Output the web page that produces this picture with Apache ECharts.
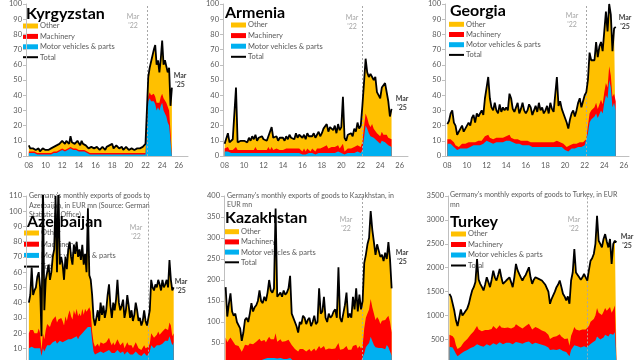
<!DOCTYPE html>
<html><head><meta charset="utf-8">
<script src="https://cdn.jsdelivr.net/npm/echarts@6/dist/echarts.min.js"></script>
<style>html,body{margin:0;padding:0;overflow:hidden;background:#fff;width:640px;height:360px}#c{width:640px;height:380px}</style>
</head><body><div id="c"></div><script>
// bimonthly points, Jan 2008 .. Mar 2025 (fractional years)
const periods = Array.from({length:104},(_,i)=>2008 + i/6);
const xTickLabels = [2008,2010,2012,2014,2016,2018,2020,2022,2024,2026];
const seriesNames = ['Other','Machinery','Motor vehicles & parts','Total'];

// Kyrgyzstan (EUR mn)
const kgTotal = [7,5,6,5,6,4, 4,5,3,4,5,4, 4,5,4,5,5,6, 6,5,7,7,8,9, 10,9,8,10,9,8, 13,9,10,8,9,10, 9,7,10,8,9,7, 6,5,4,6,5,5, 4,6,5,4,5,6, 5,4,6,5,7,6, 8,5,6,7,6,5, 5,6,4,5,6,5, 4,3,5,4,4,5, 5,4,5,5,6,7, 8,9,52,58,62,66, 70,73,60,63,55,64, 76,60,63,62,55,58, 33,45];
const kgMotor = [2,2,2,2,2,1, 1,1,1,1,1,1, 1,1,1,1,1,1, 2,2,2,2,3,3, 4,4,3,4,4,3, 5,4,4,3,4,4, 3,3,3,3,3,2, 2,1,1,1,1,1, 1,1,1,1,1,1, 1,1,1,1,1,1, 1,1,1,1,1,1, 1,1,1,1,1,1, 1,1,1,1,1,1, 1,1,1,1,1,1, 1,1,36,38,36,35, 36,34,30,32,30,33, 35,30,28,26,22,20, 10,10];
const kgMach = [1,1,1,1,1,1, 1,1,1,1,1,1, 1,1,1,1,1,1, 1,1,1,1,1,1, 1,1,1,1,1,1, 1,1,1,1,1,1, 1,1,1,1,1,1, 1,1,1,1,1,1, 1,1,1,1,1,1, 1,1,1,1,1,1, 1,1,1,1,1,1, 1,1,1,1,1,1, 1,1,1,1,1,1, 1,1,1,1,1,1, 1,1,3,4,4,4, 5,5,5,4,5,6, 6,8,10,9,12,10, 6,5];

// Armenia
const amTotal = [8,9,15,9,10,11, 10,45,9,8,10,9, 10,11,9,12,10,13, 11,14,10,12,11,13, 11,12,10,13,12,19, 12,11,13,10,12,11, 12,10,13,11,14,12, 13,11,15,12,14,13, 12,14,11,15,13,12, 13,15,12,14,16,13, 15,18,17,21,16,19, 18,17,20,15,21,17, 19,39,12,10,14,13, 15,13,18,16,22,18, 20,33,48,64,55,52, 54,55,50,52,42,40, 38,45,44,48,47,36, 26,31];
const amMotor = [3,3,3,2,2,2, 2,3,2,2,2,2, 2,2,2,3,2,2, 2,3,2,2,2,3, 2,2,2,3,2,3, 2,2,2,2,2,2, 2,2,2,2,2,2, 2,2,2,2,2,2, 1,2,1,2,2,1, 2,2,1,2,2,2, 2,2,2,3,2,2, 2,2,2,2,3,2, 2,3,1,1,2,2, 2,2,2,2,3,2, 2,4,12,20,18,15, 13,14,12,11,10,9, 8,10,9,9,8,7, 6,6];
const amMach = [2,2,3,2,2,2, 2,3,2,2,2,2, 2,2,2,2,2,3, 2,3,2,2,2,2, 2,2,2,3,2,3, 2,2,3,2,2,2, 2,2,3,2,3,2, 3,2,3,2,3,3, 2,3,2,3,3,2, 3,3,2,3,3,3, 3,4,3,4,3,4, 4,3,4,3,4,3, 4,5,2,2,3,3, 3,3,4,3,4,4, 4,5,7,8,7,6, 6,7,6,6,5,5, 5,6,5,6,6,5, 5,5];

// Georgia
const geTotal = [21,23,28,30,22,20, 14,15,18,20,16,18, 19,22,20,25,27,22, 28,26,25,30,27,38, 45,52,38,32,30,35, 30,28,34,29,32,30, 32,30,41,38,31,29, 32,35,28,31,35,30, 28,30,34,32,27,30, 33,29,35,30,32,28, 30,33,28,35,31,29, 30,52,33,36,31,28, 25,22,18,24,28,30, 26,30,35,38,32,36, 40,42,50,68,63,62, 63,75,65,72,75,69, 70,95,82,100,93,69, 84,85];
const geMotor = [8,8,8,7,6,5, 4,4,5,5,5,5, 5,6,6,6,7,6, 7,7,7,7,8,9, 10,10,9,8,8,9, 9,8,9,9,9,9, 10,10,10,9,9,8, 8,8,8,7,7,7, 7,7,7,6,6,6, 6,6,6,6,6,6, 6,6,6,6,6,6, 6,6,6,6,6,5, 4,4,3,4,5,5, 5,5,6,6,6,6, 7,8,15,22,24,25, 26,28,25,24,30,28, 35,40,38,50,45,32, 35,30];
const geMach = [3,3,3,3,3,2, 2,2,2,3,2,3, 3,3,3,3,3,3, 3,3,3,3,3,4, 4,4,3,3,3,3, 3,3,3,3,3,3, 3,3,4,3,3,3, 3,3,3,3,3,3, 3,3,3,3,3,3, 3,3,3,3,3,3, 3,3,3,3,3,3, 3,4,3,3,3,3, 3,2,2,3,3,3, 3,3,3,3,3,3, 3,3,5,6,6,6, 6,7,6,6,7,6, 7,8,7,9,8,7, 6,6];

// Azerbaijan
const azTotal = [40,45,63,45,48,50, 57,60,50,18,120,35, 55,60,65,55,60,70, 75,110,60,120,65,70, 65,55,70,62,75,80, 70,65,78,72,80,70, 75,68,78,65,72,60, 102,58,55,45,30,25, 30,35,28,40,32,38, 30,35,45,52,38,30, 40,35,42,55,40,35, 38,42,30,35,45,38, 30,35,28,32,40,35, 28,30,25,28,35,28, 25,30,35,55,50,48, 52,50,55,52,48,55, 50,52,55,50,68,55, 48,50];
const azMotor = [10,10,11,10,10,10, 10,11,10,5,10,8, 10,12,12,12,13,14, 14,15,13,14,15,15, 14,13,15,14,16,17, 16,15,17,16,18,16, 18,17,20,20,22,22, 24,25,24,15,8,6, 6,7,6,8,7,7, 7,8,8,9,8,7, 8,7,8,9,8,7, 7,8,6,7,8,7, 6,7,6,7,8,7, 6,6,5,6,7,6, 5,6,8,12,11,10, 11,12,13,12,11,13, 14,15,16,15,18,17, 12,14];
const azMach = [10,12,12,12,10,10, 10,12,10,4,10,8, 12,14,14,12,14,15, 15,16,14,15,15,15, 14,12,16,14,16,18, 15,14,18,16,18,15, 15,14,16,12,14,12, 10,12,10,6,6,5, 5,6,5,6,6,6, 6,6,7,8,6,5, 6,5,6,7,6,5, 5,6,4,5,6,5, 5,5,4,5,6,5, 4,5,4,4,5,4, 4,5,5,8,8,7, 7,7,8,7,7,8, 7,8,8,7,9,8, 6,6];

// Kazakhstan
const kzTotal = [183,113,144,168,125,115, 120,100,97,85,55,75, 105,110,100,120,145,125, 135,140,150,175,150,145, 160,150,170,200,175,170, 180,370,160,165,170,160, 175,165,170,180,210,120, 120,100,90,75,100,95, 115,110,95,105,110,90, 100,115,95,100,180,120, 125,160,110,100,120,110, 115,125,130,110,230,110, 100,120,140,170,110,120, 110,160,130,180,125,165, 130,150,240,260,285,300, 364,320,290,260,285,270, 255,260,245,265,250,290, 250,180];
const kzMotor = [8,7,8,8,7,6, 5,5,5,5,4,5, 6,6,6,7,8,7, 8,8,9,10,9,9, 12,12,14,15,14,13, 14,18,13,14,14,13, 12,12,12,13,14,10, 8,6,5,5,6,5, 6,6,5,6,6,5, 6,7,6,6,8,7, 7,8,6,6,7,6, 6,7,7,6,10,6, 5,6,6,8,6,7, 6,8,7,8,7,8, 7,8,25,40,45,50, 65,55,45,40,42,38, 35,38,40,35,45,40, 30,20];
const kzMach = [55,45,50,55,50,45, 40,40,38,35,25,32, 40,40,38,42,45,40, 42,45,45,50,45,45, 45,40,45,50,45,45, 45,55,40,42,45,40, 45,42,45,45,48,35, 35,30,28,25,30,28, 30,28,25,28,30,25, 28,30,25,28,35,30, 32,35,28,25,30,28, 30,32,30,28,40,28, 25,30,32,35,28,30, 28,35,32,38,30,35, 30,35,60,70,75,80, 90,80,75,65,70,68, 60,65,62,70,65,75, 70,55];

// Turkey
const trTotal = [1455,1390,1350,1100,900,780, 760,1130,1000,1050,1040,1150, 1250,1400,1525,1594,1700,2180, 1750,1663,1600,1525,1650,1800, 1700,1594,1750,1940,1800,1733, 1850,1975,1800,1663,1700,1733, 1760,1800,1700,1594,1800,2080, 1950,1871,1800,1733,1800,1850, 1871,2010,1800,1663,1750,1800, 1800,1767,1750,1733,1700,1650, 1663,1500,1247,1350,1386,1500, 1594,1650,1733,1600,1455,1400, 1317,1400,1247,1733,1900,2390, 1900,1871,1800,1750,1800,1871, 1800,1733,1950,2148,2200,2287, 2500,3084,2564,2500,2425,2600, 2703,2550,2425,2600,2079,2500, 2564,2530];
const trMotor = [350,340,330,300,200,150, 150,200,220,250,260,280, 300,320,340,350,370,400, 380,370,360,350,380,400, 380,370,390,420,400,390, 420,440,420,400,420,430, 420,430,410,400,430,450, 440,430,420,410,430,440, 450,460,430,400,420,430, 420,410,400,390,380,370, 360,330,280,300,290,300, 280,290,300,270,260,250, 240,260,150,280,330,380, 350,360,340,330,350,360, 350,330,380,420,430,450, 480,560,520,500,510,540, 600,580,560,620,580,600, 650,640];
const trMach = [250,250,240,220,180,150, 130,150,180,200,210,230, 250,280,300,320,330,380, 330,320,310,300,320,340, 320,310,330,360,340,330, 340,360,330,310,320,330, 330,340,320,310,330,370, 350,340,330,320,330,340, 340,370,340,310,320,330, 330,320,310,300,300,290, 290,270,230,250,260,280, 290,300,310,290,270,260, 250,260,220,300,330,380, 360,370,350,340,360,370, 360,350,400,450,470,480, 520,600,540,520,500,540, 560,520,500,560,480,520, 560,540];

const COLORS = {other:'#FFC000', mach:'#FF0000', motor:'#00B0F0', total:'#000000'};
const FONT = 'Lato, "Open Sans", sans-serif';

const panels = [
 {name:'Kyrgyzstan', total:kgTotal, motor:kgMotor, mach:kgMach, yMax:100, yStep:10,
  left:26, top:3, width:162, height:153, xMin:2007.66, xMax:2027.1,
  title:[26,14], legend:[23,26,10.4], mar22:[133,12.5], mar25:[180,71], sub:null},
 {name:'Armenia', total:amTotal, motor:amMotor, mach:amMach, yMax:100, yStep:10,
  left:223, top:3, width:185, height:153, xMin:2007.83, xMax:2026.86,
  title:[225,13], legend:[231,25,10.6], mar22:[352,13], mar25:[402,94], sub:null},
 {name:'Georgia', total:geTotal, motor:geMotor, mach:geMach, yMax:100, yStep:10,
  left:445, top:3, width:184, height:153, xMin:2007.76, xMax:2026.52,
  title:[450,11], legend:[449,24.3,10.2], mar22:[572,11.5], mar25:[625,13], sub:null},
 {name:'Azerbaijan', total:azTotal, motor:azMotor, mach:azMach, yMax:110, yStep:10,
  left:26, top:196, width:164, height:167.6, xMin:2007.66, xMax:2027.1,
  title:[27,222], legend:[24,233,11.2], mar22:[136,223], mar25:[181,277],
  sub:[29,196,["Germany's monthly exports of goods to","Azerbaijan, in EUR mn (Source: German","Statistical Office)"]]},
 {name:'Kazakhstan', total:kzTotal, motor:kzMotor, mach:kzMach, yMax:400, yStep:50,
  left:224, top:196, width:184, height:168, xMin:2007.83, xMax:2026.86,
  title:[225,218], legend:[224,231.7,10.2], mar22:[346,215], mar25:[402,248],
  sub:[227,195.7,["Germany's monthly exports of goods to Kazakhstan, in","EUR mn"]]},
 {name:'Turkey', total:trTotal, motor:trMotor, mach:trMach, yMax:3500, yStep:500,
  left:448, top:196, width:184, height:167.4, xMin:2007.85, xMax:2026.76,
  title:[450,222], legend:[451,234,10.5], mar22:[574,215], mar25:[627,232],
  sub:[450,195,["Germany's monthly exports of goods to Turkey, in EUR","mn"]]}
];

const grid=[], xAxis=[], yAxis=[], series=[], graphic=[];
const pts = arr => periods.map((x,j)=>[x, arr[j]]);

panels.forEach((p,i)=>{
  grid.push({left:p.left, top:p.top, width:p.width, height:p.height, containLabel:false});
  xAxis.push({type:'value', gridIndex:i, min:p.xMin, max:p.xMax, splitLine:{show:false},
    axisLine:{show:true, lineStyle:{color:'#bfbfbf', width:1}}, axisTick:{show:false},
    axisLabel:{customValues:xTickLabels, formatter:v=>String(Math.round(v)).slice(2), fontSize:7.5, color:'#595959', margin:6, fontFamily:FONT}});
  yAxis.push({type:'value', gridIndex:i, min:0, max:p.yMax, interval:p.yStep, splitLine:{show:false},
    axisLine:{show:true, lineStyle:{color:'#bfbfbf', width:1}}, axisTick:{show:true, length:3, lineStyle:{color:'#bfbfbf'}},
    axisLabel:{fontSize:7.5, color:'#595959', margin:4, fontFamily:FONT, formatter:v=>String(v)}});
  // layered (cumulative) areas: motor at bottom, machinery above, other on top
  const other = p.total.map((t,j)=>Math.max(0, t - p.motor[j] - p.mach[j]));
  const cumMotor = p.motor.slice();
  const cumMach = p.motor.map((m,j)=>m + p.mach[j]);
  const cumOther = cumMach.map((c,j)=>c + other[j]);
  const base = {type:'line', xAxisIndex:i, yAxisIndex:i, symbol:'none', lineStyle:{width:0}, clip:true, silent:true};
  series.push(Object.assign({}, base, {name:seriesNames[0], z:2, data:pts(cumOther), areaStyle:{color:COLORS.other, opacity:1}, itemStyle:{color:COLORS.other}}));
  series.push(Object.assign({}, base, {name:seriesNames[1], z:3, data:pts(cumMach), areaStyle:{color:COLORS.mach, opacity:1}, itemStyle:{color:COLORS.mach}}));
  series.push(Object.assign({}, base, {name:seriesNames[2], z:4, data:pts(cumMotor), areaStyle:{color:COLORS.motor, opacity:1}, itemStyle:{color:COLORS.motor}}));
  series.push({type:'line', name:seriesNames[3], xAxisIndex:i, yAxisIndex:i, symbol:'none', clip:true, silent:true, z:5,
    data:pts(p.total), lineStyle:{color:COLORS.total, width:1.8},
    markLine:{symbol:'none', silent:true, label:{show:false}, lineStyle:{type:[2,2], color:'#a6a6a6', width:1},
      data:[{xAxis:2022 + 2/12}]}});

  graphic.push({type:'text', z:1, style:{text:p.name, x:p.title[0], y:p.title[1], font:'bold 16px '+FONT, fill:'#000', textVerticalAlign:'middle'}});
  if(p.sub){
    p.sub[2].forEach((line,k)=>graphic.push({type:'text', z:0, style:{text:line, x:p.sub[0], y:p.sub[1]+k*9.5, font:'7px '+FONT, fill:'#595959', textVerticalAlign:'middle'}}));
  }
  const [lx,ly,ld] = p.legend;
  const swatch = [COLORS.other, COLORS.mach, COLORS.motor];
  seriesNames.forEach((nm,k)=>{
    const yy = ly + k*ld;
    if(k<3) graphic.push({type:'rect', z:0, shape:{x:lx, y:yy-2.5, width:15, height:5}, style:{fill:swatch[k]}});
    else graphic.push({type:'rect', z:0, shape:{x:lx, y:yy-1, width:15, height:2}, style:{fill:'#000'}});
    graphic.push({type:'text', z:0, style:{text:nm, x:lx+17, y:yy, font:'7.5px '+FONT, fill:'#595959', textVerticalAlign:'middle'}});
  });
  graphic.push({type:'text', z:0, style:{text:"Mar\n'22", x:p.mar22[0], y:p.mar22[1], font:'7px '+FONT, fill:'#a6a6a6', textAlign:'center', textVerticalAlign:'top', lineHeight:9}});
  graphic.push({type:'text', z:0, style:{text:"Mar\n'25", x:p.mar25[0], y:p.mar25[1], font:'bold 7px '+FONT, fill:'#404040', textAlign:'center', textVerticalAlign:'top', lineHeight:9}});
});

const chart = echarts.init(document.getElementById('c'), null, {renderer:'canvas'});
chart.setOption({animation:false, backgroundColor:'#fff', grid, xAxis, yAxis, series, graphic});
</script></body></html>
